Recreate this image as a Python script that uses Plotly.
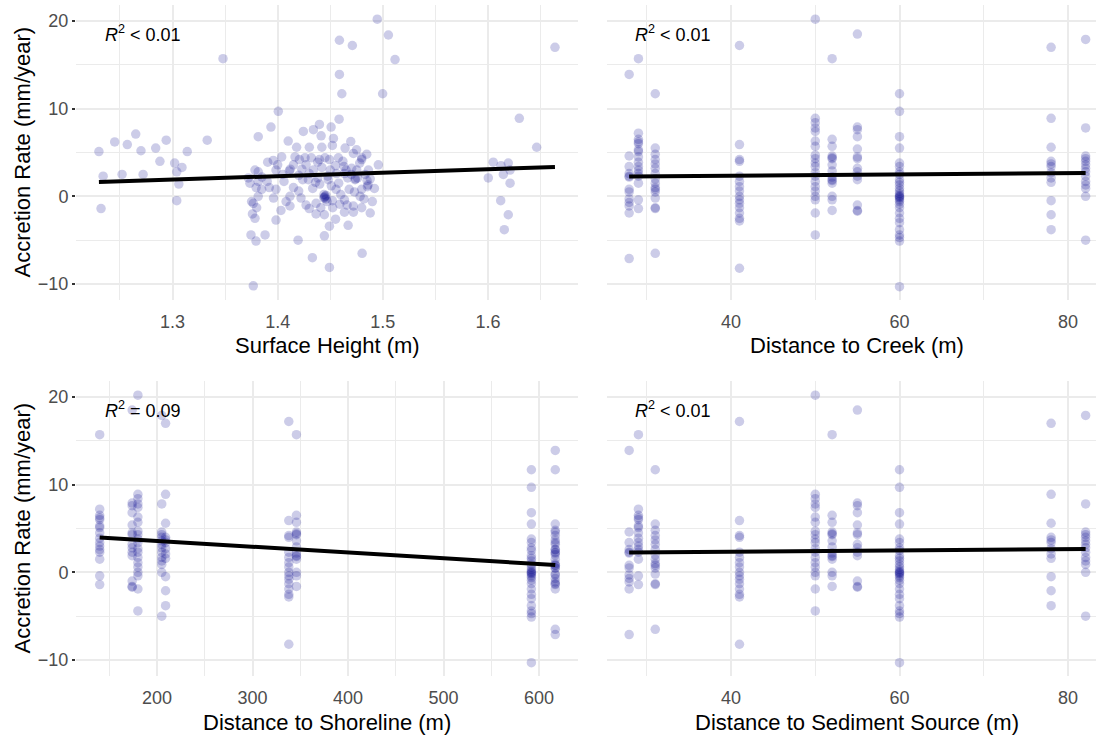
import plotly.graph_objects as go

# ---------------- data ----------------
# stations: creek distance (= sediment source distance), shoreline distance, accretion values
station_creek = [27.9, 29.0, 31.0, 41.0, 50.0, 52.0, 55.0, 60.0, 78.0, 82.1]
station_shore = [617, 140, 617, 338, 180, 346, 174, 592, 209, 205]
station_accretion = [
    [13.9, 4.6, 3.4, 2.6, 2.3, 2.2, 0.8, 0.5, -0.3, -0.7, -1.1, -1.9, -7.1],
    [15.7, 7.2, 6.5, 6.2, 6.0, 5.3, 5.1, 4.5, 3.9, 3.4, 3.0, 2.6, 2.3, 1.5, -0.4, -1.4],
    [11.7, 5.5, 4.8, 4.2, 3.7, 3.2, 2.6, 2.0, 1.5, 1.0, 0.8, 0.5, -0.2, -1.3, -1.4, -6.5],
    [17.2, 5.9, 4.2, 4.0, 2.3, 1.7, 1.1, 0.6, 0.0, -0.4, -0.8, -1.3, -1.9, -2.5, -2.8, -8.2],
    [20.2, 8.9, 8.4, 7.8, 7.4, 6.3, 5.7, 4.7, 4.3, 3.8, 3.4, 2.7, 2.3, 1.7, 1.1, 0.6, 0.0, -0.4, -1.9, -4.4],
    [15.7, 6.5, 5.7, 4.6, 4.4, 4.3, 3.6, 2.9, 2.2, 1.9, 1.8, 1.5, 0.0, -0.4, -1.6],
    [18.5, 7.9, 7.6, 6.8, 5.4, 4.5, 4.3, 3.2, 2.8, 2.3, 1.9, -1.0, -1.6, -1.7],
    [11.7, 9.7, 6.8, 5.5, 3.8, 3.4, 2.8, 2.5, 1.9, 1.6, 1.3, 0.9, 0.6, 0.3, 0.1, 0.0, -0.1, -0.2,
     -0.4, -0.6, -0.9, -1.3, -1.9, -2.5, -3.0, -3.8, -4.4, -4.7, -5.1, -10.3],
    [17.0, 8.9, 5.6, 4.0, 3.7, 3.4, 2.7, 2.1, 1.6, -0.5, -2.1, -3.8],
    [17.9, 7.8, 4.6, 4.3, 4.0, 3.6, 3.2, 2.8, 2.3, 1.7, 1.3, 0.9, 0.0, -5.0],
]

# surface height panel (read separately)
surface_height = [
    1.230, 1.234, 1.232, 1.245, 1.252, 1.257, 1.265, 1.270, 1.272, 1.284, 1.288, 1.294, 1.302, 1.304,
    1.306, 1.304, 1.309, 1.314, 1.333, 1.348,
    1.4947, 1.5053, 1.5116, 1.4998, 1.4587, 1.4710, 1.4587, 1.461, 1.4584, 1.3768, 1.433, 1.4492,
    1.4803, 1.4194, 1.4006,
    1.6003, 1.605, 1.6124, 1.6146, 1.6193, 1.621, 1.621, 1.6121, 1.6193, 1.6155, 1.6298, 1.6463, 1.6637,
    1.3936, 1.3815, 1.4244, 1.434, 1.4397, 1.4413, 1.4508, 1.4301, 1.453, 1.452, 1.4641, 1.4695,
    1.4720, 1.4799, 1.4799, 1.4847, 1.4957,
    1.3784, 1.3815, 1.3905, 1.3958, 1.3984, 1.4038, 1.4111, 1.4120, 1.4165, 1.4206, 1.426, 1.434,
    1.4397, 1.445, 1.4492, 1.4577, 1.465, 1.4704, 1.4736, 1.4740, 1.4752, 1.4831, 1.4863, 1.4853,
    1.4860, 1.4784, 1.4799, 1.3721, 1.3736, 1.3815, 1.3848, 1.3815, 1.3768, 1.3752, 1.3800, 1.3784,
    1.3746, 1.3794, 1.388, 1.3984, 1.3984, 1.4031, 1.4117, 1.4117, 1.4222, 1.4238, 1.4292, 1.4333,
    1.4365, 1.4365, 1.4444, 1.4450, 1.4440, 1.4460, 1.4470, 1.4444, 1.4492, 1.4444, 1.4523, 1.4555,
    1.4635, 1.4635, 1.4720, 1.4720, 1.4799, 1.4476, 1.4381, 1.4666, 1.4635, 1.4580, 1.4510, 1.4400,
    1.4300, 1.4200, 1.4150, 1.4680, 1.4590, 1.4880, 1.4920, 1.4900, 1.4550, 1.4420, 1.4270, 1.4620,
    1.4750, 1.4180, 1.4100, 1.3960, 1.3900, 1.4060, 1.4300, 1.4550, 1.4670, 1.4420, 1.4880,
    1.385, 1.392, 1.400, 1.405, 1.408, 1.415, 1.420, 1.423, 1.427, 1.432, 1.436, 1.438, 1.441, 1.448,
    1.450, 1.452, 1.456, 1.460, 1.463, 1.466, 1.470, 1.473, 1.476, 1.478, 1.482, 1.485, 1.446, 1.444,
    1.376, 1.3795,
]
surface_accretion = [
    5.1, 2.3, -1.4, 6.2, 2.5, 5.9, 7.1, 5.2, 2.5, 5.5, 4.0, 6.4, 3.8, 2.8,
    1.4, -0.5, 3.3, 5.1, 6.4, 15.7,
    20.2, 18.4, 15.6, 11.7, 17.8, 17.2, 13.9, 11.7, 8.8, -10.2, -7.0, -8.1,
    -6.5, -5.0, 9.7,
    2.1, 3.9, 3.5, 2.5, 3.8, 3.0, 1.5, -0.5, -2.1, -3.8, 8.9, 5.6, 17.0,
    7.9, 6.8, 7.4, 7.6, 8.2, 6.9, 7.9, 5.6, 6.6, 5.8, 5.5, 6.25,
    4.9, 4.4, 4.2, 4.8, 3.6,
    3.0, 2.8, 3.9, 4.1, 3.0, 4.5, 2.9, 3.1, 4.5, 4.2, 4.4, 3.0,
    4.2, 4.4, 4.2, 4.4, 3.0, 3.2, 1.9, 2.0, 3.0, 2.5, 3.0, 1.1,
    1.3, 0.0, 0.8, 2.1, 1.5, 1.7, 0.8, 0.0, -0.8, -0.6, -1.3, -2.5,
    -4.4, -5.1, -4.4, 0.8, -2.7, -1.6, 0.0, -1.1, -0.2, 1.9, 1.9, 0.9,
    -0.8, -2.0, -0.1, 0.0, -0.2, 0.1, -0.6, -2.1, -3.4, -4.5, -1.3, 0.8,
    -0.4, -1.8, -1.1, -1.8, -1.3, 2.3, 2.1, 2.1, 2.6, 1.5, 1.2, 1.4,
    2.6, 2.4, 1.0, 0.8, -0.9, 2.0, 0.9, -0.6, 3.5, 3.3, 3.6, 4.0,
    5.3, 5.6, 6.3, -0.2, 1.7, 1.7, -1.4, -2.6, -3.3, 5.6, -1.9,
    2.2, 1.0, 3.6, 2.5, -0.6, 3.6, 0.6, 3.1, -1.0, 4.4, 1.6, 3.9, -1.3, 1.9,
    3.0, -0.5, 2.6, 0.2, 3.4, -1.0, 2.5, 0.5, 2.1, 3.8, -0.3, 1.8, -0.3, 0.2,
    -2.0, 1.0,
]

# fitted regression lines (end points)
fit_surface_x = [1.230, 1.6637]
fit_surface_y = [1.64, 3.34]
fit_creek_x = [27.9, 82.1]
fit_creek_y = [2.27, 2.66]
fit_shore_x = [140, 617]
fit_shore_y = [3.98, 0.83]
fit_sediment_x = [27.9, 82.1]
fit_sediment_y = [2.27, 2.66]

r2_labels = ["<i>R</i><sup>2</sup> &lt; 0.01", "<i>R</i><sup>2</sup> &lt; 0.01",
             "<i>R</i><sup>2</sup> = 0.09", "<i>R</i><sup>2</sup> &lt; 0.01"]
x_titles = ["Surface Height (m)", "Distance to Creek (m)",
            "Distance to Shoreline (m)", "Distance to Sediment Source (m)"]
y_title = "Accretion Rate (mm/year)"

# ---------------- build ----------------
creek_x, shore_x, acc_all = [], [], []
for c, s, vals in zip(station_creek, station_shore, station_accretion):
    for v in vals:
        creek_x.append(c)
        shore_x.append(s)
        acc_all.append(v)

W, H = 1096, 736
FONT = "Liberation Sans, Arial, sans-serif"


def px(x):
    return x / W


def py(y):
    return 1 - y / H


panels = [
    dict(x=surface_height, y=surface_accretion, fx=fit_surface_x, fy=fit_surface_y),
    dict(x=creek_x, y=acc_all, fx=fit_creek_x, fy=fit_creek_y),
    dict(x=shore_x, y=acc_all, fx=fit_shore_x, fy=fit_shore_y),
    dict(x=creek_x, y=acc_all, fx=fit_sediment_x, fy=fit_sediment_y),
]

fig = go.Figure()
for i, p in enumerate(panels):
    ax = "" if i == 0 else str(i + 1)
    fig.add_trace(go.Scatter(
        x=p["x"], y=p["y"], mode="markers", xaxis="x" + ax, yaxis="y" + ax,
        marker=dict(color="#00008B", size=9.5, opacity=0.2, line=dict(width=0)),
        hoverinfo="skip", showlegend=False))
    fig.add_trace(go.Scatter(
        x=p["fx"], y=p["fy"], mode="lines", xaxis="x" + ax, yaxis="y" + ax,
        line=dict(color="black", width=4), hoverinfo="skip", showlegend=False))

# panel pixel boxes
left_dom = [px(76), px(578)]
right_dom = [px(607), 1.0]
top_dom = [py(300), py(5)]
bot_dom = [py(676), py(381)]
yrange = [-11.82, 21.82]

grid = "#EBEBEB"
tickfont = dict(family=FONT, size=18, color="#4D4D4D")


def xaxis(domain, rng, tick0, dtick, anchor):
    return dict(domain=domain, range=rng, tick0=tick0, dtick=dtick, anchor=anchor,
                showgrid=True, gridcolor=grid, gridwidth=2, zeroline=False, showline=False,
                ticks="outside", ticklen=5, tickcolor="rgba(0,0,0,0)", tickfont=tickfont,
                minor=dict(dtick=dtick / 2, showgrid=True, gridcolor=grid, gridwidth=1.2),
                fixedrange=True)


def yaxis(domain, anchor):
    return dict(domain=domain, range=yrange, tick0=0, dtick=10, anchor=anchor,
                showgrid=True, gridcolor=grid, gridwidth=2, zeroline=False, showline=False,
                ticks="outside", ticklen=3, tickwidth=2, tickcolor="#333333", tickfont=tickfont,
                minor=dict(dtick=5, showgrid=True, gridcolor=grid, gridwidth=1.2),
                fixedrange=True)


fig.update_layout(
    width=W, height=H, margin=dict(l=0, r=0, t=0, b=0),
    paper_bgcolor="white", plot_bgcolor="white",
    font=dict(family=FONT),
    xaxis=xaxis(left_dom, [1.2082, 1.6856], 1.3, 0.1, "y"),
    yaxis=yaxis(top_dom, "x"),
    xaxis2=xaxis(right_dom, [25.27, 83.33], 40, 20, "y2"),
    yaxis2=yaxis(top_dom, "x2"),
    xaxis3=xaxis(left_dom, [115.2, 640.8], 200, 100, "y3"),
    yaxis3=yaxis(bot_dom, "x3"),
    xaxis4=xaxis(right_dom, [25.27, 83.33], 40, 20, "y4"),
    yaxis4=yaxis(bot_dom, "x4"),
)
fig.update_layout(yaxis2=dict(showticklabels=False, ticks=""),
                  yaxis4=dict(showticklabels=False, ticks=""))

ann = []
# x titles
title_pos = [(327, 346), (857, 346), (327, 722), (857, 722)]
for t, (cx, cy) in zip(x_titles, title_pos):
    ann.append(dict(text=t, x=px(cx), y=py(cy), xref="paper", yref="paper",
                    xanchor="center", yanchor="middle", showarrow=False,
                    font=dict(family=FONT, size=22, color="black")))
# y titles
for cy in (152.5, 528.5):
    ann.append(dict(text=y_title, x=px(22), y=py(cy), xref="paper", yref="paper",
                    xanchor="center", yanchor="middle", textangle=-90, showarrow=False,
                    font=dict(family=FONT, size=22, color="black")))
# R^2 labels
r2_pos = [(103, 33), (633, 33), (103, 409), (633, 409)]
for t, (lx, ly) in zip(r2_labels, r2_pos):
    ann.append(dict(text=t, x=px(lx), y=py(ly), xref="paper", yref="paper",
                    xanchor="left", yanchor="middle", showarrow=False,
                    font=dict(family=FONT, size=18, color="black")))
fig.update_layout(annotations=ann)

fig.write_html("out.html")
